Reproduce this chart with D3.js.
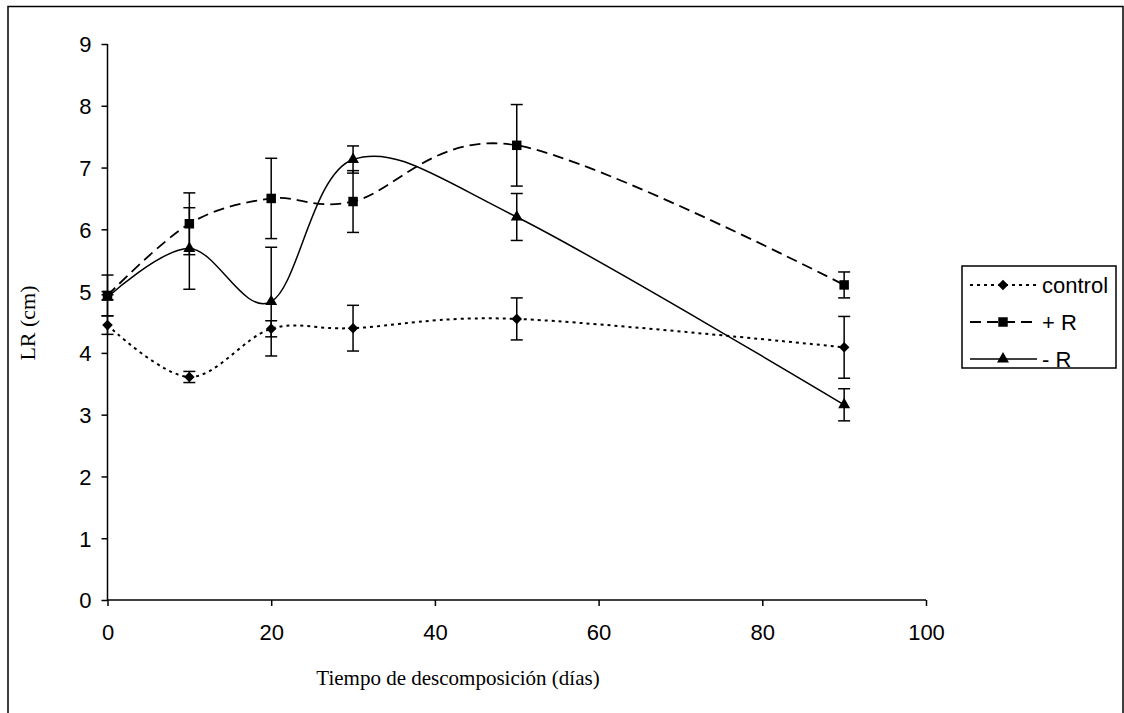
<!DOCTYPE html>
<html>
<head>
<meta charset="utf-8">
<script src="https://cdn.jsdelivr.net/npm/d3@7"></script>
<style>
    body { margin: 0; background: #fff; }
    svg { display: block; }
    .tick-label { font-family: Arial, "Liberation Sans", sans-serif; font-size: 22px; fill: #000; }
    .axis-title { font-family: "Times New Roman", "Liberation Serif", serif; font-size: 21px; fill: #000; }
    .legend-label { font-family: Arial, "Liberation Sans", sans-serif; font-size: 22px; fill: #000; }
</style>
</head>
<body>
<svg id="chart" width="1124" height="713"></svg>
<script>
// Days of decomposition
const days = [0, 10, 20, 30, 50, 90];

// LR (cm) per treatment, with error bar half-widths
const control = [4.45, 3.61, 4.39, 4.40, 4.55, 4.09];
const controlErr = [0.15, 0.09, 0.13, 0.37, 0.34, 0.50];
const plusR = [4.93, 6.09, 6.50, 6.45, 7.36, 5.10];
const plusRErr = [0.33, 0.50, 0.65, 0.50, 0.66, 0.21];
const minusR = [4.90, 5.69, 4.83, 7.13, 6.20, 3.16];
const minusRErr = [0.04, 0.66, 0.88, 0.22, 0.38, 0.26];

const xTicks = [0, 20, 40, 60, 80, 100];
const yTicks = [0, 1, 2, 3, 4, 5, 6, 7, 8, 9];

const seriesNames = ['control', '+ R', '- R'];

// wide diamond like the spreadsheet marker (d3's own is narrow)
const wideDiamond = {
    draw(ctx, size) {
        const r = Math.sqrt(size / 2);
        ctx.moveTo(0, -r);
        ctx.lineTo(r, 0);
        ctx.lineTo(0, r);
        ctx.lineTo(-r, 0);
        ctx.closePath();
    }
};

document.addEventListener('DOMContentLoaded', () => {
    const svg = d3.select('#chart');

    // outer frame (bottom edge falls outside the picture)
    svg.append('rect')
        .attr('x', 8).attr('y', 6.5)
        .attr('width', 1115).attr('height', 760)
        .attr('fill', 'none')
        .attr('stroke', '#000')
        .attr('stroke-width', 1.5);

    const x = d3.scaleLinear().domain([0, 100]).range([107.5, 926]);
    const y = d3.scaleLinear().domain([0, 9]).range([600, 44]);

    drawAxes(svg, x, y);

    const series = [
        { name: seriesNames[0], values: control, err: controlErr, dash: '3,4', width: 2, marker: wideDiamond, size: 56 },
        { name: seriesNames[1], values: plusR, err: plusRErr, dash: '11,6', width: 1.8, marker: d3.symbolSquare, size: 90 },
        { name: seriesNames[2], values: minusR, err: minusRErr, dash: null, width: 1.5, marker: d3.symbolTriangle, size: 62 }
    ];

    series.forEach(s => drawSeries(svg, x, y, s));
    drawLegend(svg, series);
});

function drawAxes(svg, x, y) {
    const g = svg.append('g');

    const xAxis = g.append('g')
        .attr('transform', `translate(0,${y(0)})`)
        .call(d3.axisBottom(x).tickValues(xTicks).tickSize(6).tickPadding(18));
    const yAxis = g.append('g')
        .attr('transform', `translate(${x(0)},0)`)
        .call(d3.axisLeft(y).tickValues(yTicks).tickSize(6).tickPadding(10));

    [xAxis, yAxis].forEach(a => {
        a.select('.domain').attr('stroke', '#000').attr('stroke-width', 1.5);
        a.selectAll('.tick line').attr('stroke', '#000').attr('stroke-width', 1.5);
        a.selectAll('.tick text').attr('class', 'tick-label').attr('font-size', null).attr('font-family', null);
    });
    // drop the outer-tick hooks d3 adds on the domain path
    xAxis.select('.domain').attr('d', `M${x(0)},0H${x(100)}`);
    yAxis.select('.domain').attr('d', `M0,${y(0)}V${y(9)}`);
    yAxis.selectAll('.tick text').attr('dy', '0.36em');

    svg.append('text')
        .attr('class', 'axis-title')
        .attr('x', 458).attr('y', 685)
        .attr('text-anchor', 'middle')
        .text('Tiempo de descomposición (días)');

    svg.append('text')
        .attr('class', 'axis-title')
        .attr('transform', 'translate(35,323) rotate(-90)')
        .attr('text-anchor', 'middle')
        .style('font-size', '22px')
        .text('LR (cm)');
}

function drawSeries(svg, x, y, s) {
    const g = svg.append('g');
    const pts = days.map((d, i) => ({ day: d, v: s.values[i], e: s.err[i] }));

    const line = d3.line()
        .x(d => x(d.day))
        .y(d => y(d.v))
        .curve(d3.curveCardinal.tension(0));  // Excel-style smoothed line

    g.append('path')
        .datum(pts)
        .attr('d', line)
        .attr('fill', 'none')
        .attr('stroke', '#000')
        .attr('stroke-width', s.width)
        .attr('stroke-dasharray', s.dash);

    // error bars
    const bars = g.selectAll('.err').data(pts).enter().append('g');
    bars.append('line')
        .attr('x1', d => x(d.day)).attr('x2', d => x(d.day))
        .attr('y1', d => y(d.v + d.e)).attr('y2', d => y(d.v - d.e))
        .attr('stroke', '#000').attr('stroke-width', 1.5);
    [1, -1].forEach(sign => {
        bars.append('line')
            .attr('x1', d => x(d.day) - 6).attr('x2', d => x(d.day) + 6)
            .attr('y1', d => y(d.v + sign * d.e)).attr('y2', d => y(d.v + sign * d.e))
            .attr('stroke', '#000').attr('stroke-width', 1.5);
    });

    g.selectAll('.mark').data(pts).enter().append('path')
        .attr('d', d3.symbol().type(s.marker).size(s.size))
        .attr('transform', d => `translate(${x(d.day)},${y(d.v)})`)
        .attr('fill', '#000');
}

function drawLegend(svg, series) {
    const g = svg.append('g');
    g.append('rect')
        .attr('x', 962).attr('y', 266)
        .attr('width', 154).attr('height', 102)
        .attr('fill', '#fff')
        .attr('stroke', '#000')
        .attr('stroke-width', 1.5);

    series.forEach((s, i) => {
        const cy = 285 + i * 37;
        g.append('line')
            .attr('x1', 970).attr('x2', 1037)
            .attr('y1', cy).attr('y2', cy)
            .attr('stroke', '#000')
            .attr('stroke-width', s.width)
            .attr('stroke-dasharray', s.dash);
        g.append('path')
            .attr('d', d3.symbol().type(s.marker).size(s.size))
            .attr('transform', `translate(1003,${cy})`)
            .attr('fill', '#000');
        g.append('text')
            .attr('class', 'legend-label')
            .attr('x', 1042).attr('y', cy + 8)
            .text(s.name);
    });
}
</script>
</body>
</html>
